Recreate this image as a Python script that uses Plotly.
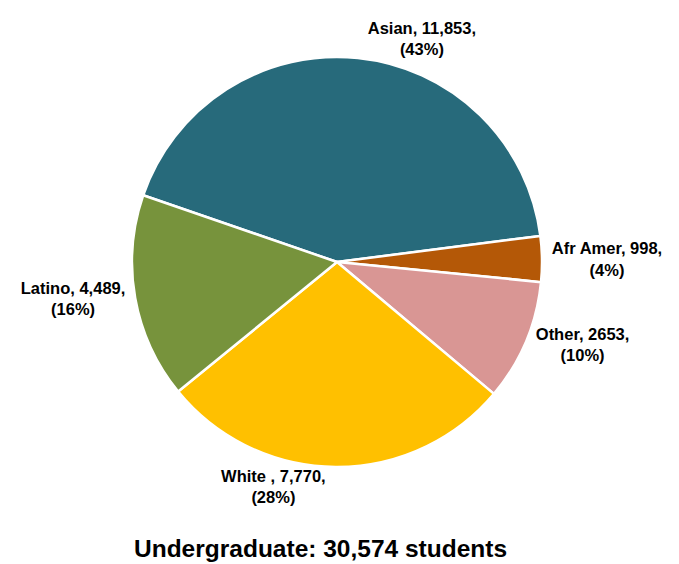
import plotly.graph_objects as go

categories = ["Asian", "Afr Amer", "Other", "White ", "Latino"]
counts = [11853, 998, 2653, 7770, 4489]
count_labels = ["11,853", "998", "2653", "7,770", "4,489"]
pct_labels = ["43%", "4%", "10%", "28%", "16%"]
colors = ["#276A7B", "#B45807", "#D99694", "#FFC000", "#77933C"]
title_text = "Undergraduate: 30,574 students"

text = [f"<b>{c}, {n},<br>({p})</b>" for c, n, p in zip(categories, count_labels, pct_labels)]

# the page body adds an 8px offset, so the figure is laid out 8px up/left
L, R, T, B = 124, 145, 49, 105
W, H = 679, 564
pw, ph = W - L - R, H - T - B

fig = go.Figure(go.Pie(
    labels=categories,
    values=counts,
    text=text,
    textinfo="text",
    textposition="outside",
    sort=False,
    direction="clockwise",
    rotation=-71,
    marker=dict(colors=colors, line=dict(color="white", width=2.5)),
    textfont=dict(family="Liberation Sans, Arial", size=16.5, color="black"),
    hoverinfo="label+value+percent",
    showlegend=False,
))

fig.update_layout(
    width=W, height=H,
    margin=dict(l=L, r=R, t=T, b=B),
    paper_bgcolor="white",
    plot_bgcolor="white",
    font=dict(family="Liberation Sans, Arial", color="black"),
    uniformtext=dict(minsize=16, mode="show"),
    annotations=[dict(
        text=f"<b>{title_text}</b>",
        xref="paper", yref="paper",
        x=(312 - L) / pw,
        y=-(540 - (H - B)) / ph,
        xanchor="center", yanchor="middle",
        showarrow=False,
        font=dict(family="Liberation Sans, Arial", size=24.5, color="black"),
    )],
)

fig.write_html("out.html")
